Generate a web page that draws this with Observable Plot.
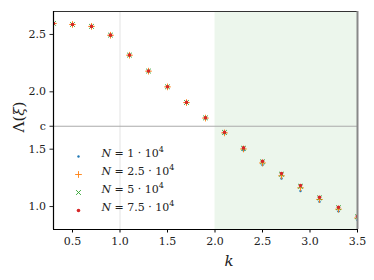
<!DOCTYPE html>
<html>
<head>
<meta charset="utf-8">
<script src="https://cdn.jsdelivr.net/npm/d3@7"></script>
<script src="https://cdn.jsdelivr.net/npm/@observablehq/plot@0.6"></script>
<style>
html,body{margin:0;padding:0;background:#fff;}
#chart{width:374px;height:280px;overflow:hidden;}
</style>
</head>
<body>
<div id="chart"></div>
<script>
const k = [0.3,0.5,0.7,0.9,1.1,1.3,1.5,1.7,1.9,2.1,2.3,2.5,2.7,2.9,3.1,3.3,3.5];
const n1  = [2.596,2.587,2.569,2.492,2.318,2.179,2.041,1.904,1.768,1.636,1.490,1.362,1.244,1.136,1.042,0.958,0.882];
const n25 = [2.596,2.587,2.570,2.493,2.319,2.180,2.043,1.906,1.771,1.642,1.502,1.380,1.268,1.163,1.062,0.977,0.900];
const n5  = [2.596,2.587,2.570,2.494,2.320,2.181,2.044,1.907,1.773,1.646,1.508,1.390,1.282,1.177,1.076,0.990,0.911];
const n75 = [2.596,2.587,2.570,2.494,2.320,2.181,2.044,1.908,1.774,1.647,1.511,1.395,1.288,1.183,1.081,0.994,0.916];
const seriesLabels = ["1", "2.5", "5", "7.5"];
const seriesColors = ["#1f77b4","#ff7f0e","#2ca02c","#d62728"];
const xDomain = [0.3, 3.5];
const yDomain = [0.8, 2.7];
const xTicks = [0.5,1.0,1.5,2.0,2.5,3.0,3.5];
const yTicks = [1.0,1.5,2.0,2.5];
const cValue = 1.70;
const shadeStart = 2.0;
const gridX = [1.0];

const FONT = "'DejaVu Serif', serif";
const series = [n1, n25, n5, n75];
const rows = series.map((vals, i) => k.map((kk, j) => ({k: kk, v: vals[j], s: i})));

const symbolOpts = [
  {symbol: "circle", r: 1.2, fill: seriesColors[0], stroke: "none"},
  {symbol: "plus", r: 2.3, stroke: seriesColors[1], strokeWidth: 0.9, fill: "none"},
  {symbol: "times", r: 2.3, stroke: seriesColors[2], strokeWidth: 0.9, fill: "none"},
  {symbol: "circle", r: 1.8, fill: seriesColors[3], stroke: "none"}
];

const legendDy = [-73, -55, -37, -19];

const marks = [
  Plot.rect([{x1: shadeStart, x2: xDomain[1]}], {x1: "x1", x2: "x2", fill: "#2ca02c", fillOpacity: 0.09}),
  Plot.ruleX(gridX, {stroke: "#dcdcdc", strokeWidth: 0.8}),
  Plot.ruleY([cValue], {stroke: "#aaaaaa", strokeWidth: 1}),
  ...rows.map((r, i) => Plot.dot(r, {x: "k", y: "v", ...symbolOpts[i], clip: "frame"})),
  ...seriesLabels.map((lab, i) => Plot.dot([lab], {frameAnchor: "bottom-left", dx: 25, dy: legendDy[i], ...symbolOpts[i]})),
  ...seriesLabels.map((lab, i) => Plot.text([lab], {frameAnchor: "bottom-left", dx: 48, dy: legendDy[i], text: d => d, textAnchor: "start", fontSize: 11, fill: "#222", className: "legtext"})),
  Plot.ruleY([yDomain[1]], {stroke: "#333", strokeWidth: 1.2}),
  Plot.ruleX([xDomain[1]], {stroke: "#888", strokeWidth: 2}),
  Plot.ruleY([yDomain[0]], {stroke: "#000", strokeWidth: 1.2}),
  Plot.ruleX([xDomain[0]], {stroke: "#000", strokeWidth: 1.2}),
  Plot.axisX({ticks: xTicks, tickFormat: d3.format(".1f"), tickSize: 3.5, tickPadding: 4, fontSize: 11, label: null, stroke: "#000", color: "#222"}),
  Plot.axisY({ticks: [...yTicks, cValue], tickFormat: d => d === cValue ? "c" : d3.format(".1f")(d), tickSize: 3.5, tickPadding: 4, fontSize: 11, label: null, color: "#222"})
];

const chart = Plot.plot({
  width: 374,
  height: 280,
  marginLeft: 53,
  marginRight: 17,
  marginTop: 11,
  marginBottom: 51,
  style: {background: "#fff", fontFamily: FONT},
  x: {domain: xDomain},
  y: {domain: yDomain},
  marks
});

const svg = d3.select(chart);
svg.selectAll(".legtext text").each(function(d) {
  const t = d3.select(this);
  const lab = t.text();
  t.text(null);
  t.append("tspan").attr("font-style", "italic").text("N");
  t.append("tspan").text(" = " + lab + " · 10");
  t.append("tspan").attr("dy", "-5").attr("font-size", "8").text("4");
});
svg.append("text").attr("x", 229).attr("y", 266).attr("text-anchor", "middle")
  .attr("font-family", FONT).attr("font-size", 15).attr("font-style", "italic").attr("fill", "#222").text("k");
const yl = svg.append("text").attr("transform", "translate(24,117) rotate(-90)").attr("text-anchor", "middle")
  .attr("font-family", FONT).attr("font-size", 15).attr("fill", "#222");
yl.append("tspan").text("Λ(");
yl.append("tspan").attr("font-style", "italic").text("ξ");
yl.append("tspan").text(")");

document.getElementById("chart").appendChild(chart);
</script>
</body>
</html>
